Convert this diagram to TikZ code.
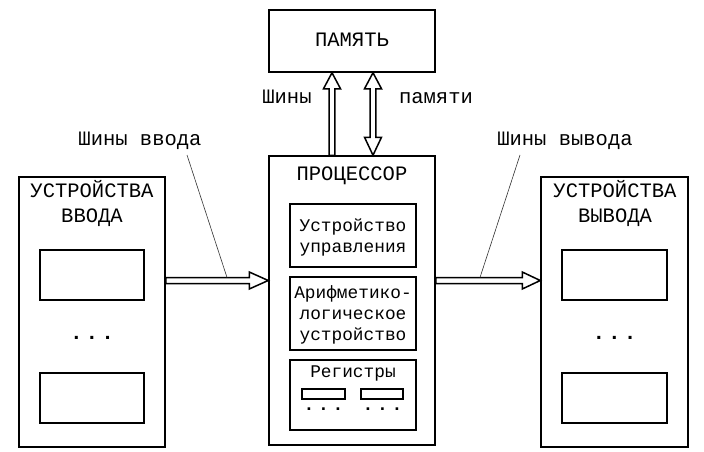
\documentclass[tikz,border=0pt]{standalone}
\usepackage{fontspec}
\newfontfamily\mono{Liberation Mono}
\usetikzlibrary{calc}
\begin{document}
\begin{tikzpicture}[x=1pt,y=-1pt,
  box/.style={draw, line width=1.5pt, inner sep=0pt, fill=white},
  big/.style={font=\mono\fontsize{20.5}{24}\selectfont, inner sep=0pt, anchor=base},
  small/.style={font=\mono\fontsize{17.8}{21}\selectfont, inner sep=0pt, anchor=base},
  dotsbig/.style={font=\mono\bfseries\fontsize{21}{24}\selectfont, inner sep=0pt, anchor=base},
  dotssmall/.style={font=\mono\bfseries\fontsize{18}{21}\selectfont, inner sep=0pt, anchor=base},
  hollow/.style={draw, line width=1.5pt, fill=white, line join=miter},
  leader/.style={draw, line width=0.6pt, black!80}]
\useasboundingbox (0,0) rectangle (704,452);
% memory
\node[box, minimum width=166pt, minimum height=62pt] (mem) at (352,41) {};
\node[big] (memT) at (352,47) {ПАМЯТЬ};
% processor
\node[box, minimum width=166pt, minimum height=289pt] (cpu) at (352,300.5) {};
\node[big] (cpuT) at (352,180) {ПРОЦЕССОР};
\node[box, minimum width=126pt, minimum height=63pt] (cu) at (353,235.5) {};
\node[small] (cuT1) at (353,231) {Устройство};
\node[small] (cuT2) at (353,252) {управления};
\node[box, minimum width=126pt, minimum height=73pt] (alu) at (353,313.5) {};
\node[small] (aluT1) at (353,298) {Арифметико-};
\node[small] (aluT2) at (353,319) {логическое};
\node[small] (aluT3) at (353,340) {устройство};
\node[box, minimum width=126pt, minimum height=70pt] (reg) at (353,395) {};
\node[small] (regT) at (353,377) {Регистры};
\node[box, minimum width=43pt, minimum height=10pt] (r1) at (323.5,394) {};
\node[box, minimum width=42pt, minimum height=10pt] (r2) at (382,394) {};
\node[dotssmall] (rd1) at (323.5,410) {.\hspace{3.7pt}.\hspace{3.7pt}.};
\node[dotssmall] (rd2) at (382.5,410) {.\hspace{3.7pt}.\hspace{3.7pt}.};
% input devices
\node[box, minimum width=146pt, minimum height=270pt] (inL) at (92,312) {};
\node[big] (inT1) at (92,197) {УСТРОЙСТВА};
\node[big] (inT2) at (92,222) {ВВОДА};
\node[box, minimum width=104pt, minimum height=50pt] (in1) at (92,275) {};
\node[box, minimum width=104pt, minimum height=50pt] (in2) at (92,398) {};
\node[dotsbig] (inD) at (92,339) {.\hspace{3pt}.\hspace{3pt}.};
% output devices
\node[box, minimum width=147pt, minimum height=270pt] (outR) at (614.5,312) {};
\node[big] (outT1) at (615,197) {УСТРОЙСТВА};
\node[big] (outT2) at (615,222) {ВЫВОДА};
\node[box, minimum width=105pt, minimum height=50pt] (out1) at (614.5,275) {};
\node[box, minimum width=105pt, minimum height=50pt] (out2) at (614.5,398) {};
\node[dotsbig] (outD) at (614.5,339) {.\hspace{3pt}.\hspace{3pt}.};
% labels
\node[big] (lin) at (140,145) {Шины ввода};
\node[big] (lout) at (565,145) {Шины вывода};
\node[big] (lm1) at (287,103) {Шины};
\node[big] (lm2) at (436,103) {памяти};
% arrow anchor coordinates
\coordinate (yH) at (0,280.5);
\coordinate (xA) at (332,0);
\coordinate (xB) at (373,0);
\coordinate (hA) at (inL.east |- yH);
\coordinate (hB) at (cpu.west |- yH);
\coordinate (hC) at (cpu.east |- yH);
\coordinate (hD) at (outR.west |- yH);
\coordinate (vA) at (cpu.north -| xA);
\coordinate (vB) at (mem.south -| xA);
\coordinate (vC) at (cpu.north -| xB);
\coordinate (vD) at (mem.south -| xB);
% horizontal hollow arrows
\path[hollow] ($(hA)+(0,-3)$) -- ($(hB)+(-19,-3)$) -- ($(hB)+(-19,-8.5)$) -- (hB)
  -- ($(hB)+(-19,8.5)$) -- ($(hB)+(-19,3)$) -- ($(hA)+(0,3)$) -- cycle;
\path[hollow] ($(hC)+(0,-3)$) -- ($(hD)+(-18,-3)$) -- ($(hD)+(-18,-8.5)$) -- (hD)
  -- ($(hD)+(-18,8.5)$) -- ($(hD)+(-18,3)$) -- ($(hC)+(0,3)$) -- cycle;
% vertical: single-headed up
\path[hollow] ($(vA)+(-2.8,0)$) -- ($(vB)+(-2.8,16)$) -- ($(vB)+(-8.5,16)$) -- (vB)
  -- ($(vB)+(8.5,16)$) -- ($(vB)+(2.8,16)$) -- ($(vA)+(2.8,0)$) -- cycle;
% vertical: double-headed
\path[hollow] ($(vC)+(0,0)$) -- ($(vC)+(-8.5,-18)$) -- ($(vC)+(-2.8,-18)$) -- ($(vD)+(-2.8,16)$)
  -- ($(vD)+(-8.5,16)$) -- (vD) -- ($(vD)+(8.5,16)$) -- ($(vD)+(2.8,16)$)
  -- ($(vC)+(2.8,-18)$) -- ($(vC)+(8.5,-18)$) -- cycle;
% leader lines
\coordinate (la) at (187,155);
\coordinate (lb) at (227,277.5);
\coordinate (lc) at (520,155);
\coordinate (ld) at (480,277.5);
\draw[leader] (la) -- (lb);
\draw[leader] (lc) -- (ld);
\end{tikzpicture}
\end{document}
